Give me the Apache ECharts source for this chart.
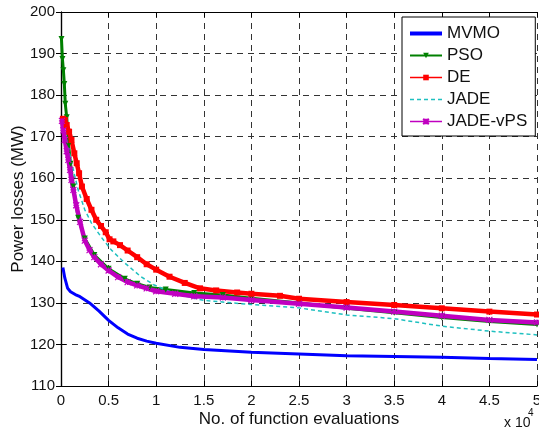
<!DOCTYPE html>
<html>
<head>
<meta charset="utf-8">
<script src="https://cdn.jsdelivr.net/npm/echarts@6/dist/echarts.min.js"></script>
<style>
html,body{margin:0;padding:0;background:#fff;}
#c{width:539px;height:432px;}
</style>
</head>
<body>
<div id="c"></div>
<script>
// ---- data (x in units of 10^4 function evaluations, y in MW) ----
var seriesNames = ['MVMO', 'PSO', 'DE', 'JADE', 'JADE-vPS'];
var xTicks = [0, 0.5, 1, 1.5, 2, 2.5, 3, 3.5, 4, 4.5, 5];
var yTicks = [110, 120, 130, 140, 150, 160, 170, 180, 190, 200];

var mvmoX = [0.02, 0.04, 0.07, 0.1, 0.15, 0.2, 0.3, 0.4, 0.5, 0.6, 0.7, 0.8, 0.9, 1.0, 1.25, 1.5, 2.0, 2.5, 3.0, 3.5, 4.0, 4.5, 5.0];
var mvmoY = [138.5, 136, 133.5, 132.7, 132, 131.5, 130, 128, 125.8, 124, 122.5, 121.5, 120.8, 120.3, 119.3, 118.8, 118.1, 117.7, 117.3, 117.1, 116.9, 116.6, 116.4];

var psoX = [0.005, 0.015, 0.025, 0.035, 0.045, 0.06, 0.08, 0.1, 0.13, 0.18, 0.25, 0.35, 0.5, 0.67, 0.8, 0.93, 1.1, 1.4, 1.7, 2.0, 2.5, 3.0, 3.5, 4.0, 4.5, 5.0];
var psoY = [193.5, 188.7, 186, 182.7, 177.9, 174.7, 168, 163.5, 158, 150.5, 145.5, 141.5, 138.2, 135.8, 134.6, 133.7, 133.2, 132.4, 131.9, 131.1, 130.0, 128.7, 127.6, 126.5, 125.5, 124.8];

var deX = [0.02, 0.04, 0.06, 0.085, 0.11, 0.14, 0.165, 0.19, 0.22, 0.27, 0.32, 0.37, 0.42, 0.47, 0.51, 0.55, 0.62, 0.7, 0.8, 0.9, 1.0, 1.14, 1.3, 1.46, 1.63, 1.85, 2.0, 2.3, 2.5, 3.0, 3.5, 4.0, 4.5, 5.0];
var deY = [174.3, 174, 172.8, 171.2, 169.2, 166, 163.6, 161.2, 158, 155, 152.4, 150, 148.5, 147, 145.3, 144.8, 143.9, 142.6, 141, 139.3, 138, 136.3, 134.8, 133.5, 133, 132.5, 132.2, 131.7, 131.0, 130.2, 129.5, 128.7, 127.9, 127.2];

var jadeX = [0.02, 0.05, 0.1, 0.14, 0.18, 0.25, 0.32, 0.42, 0.53, 0.67, 0.84, 0.98, 1.2, 1.5, 2.0, 2.5, 3.0, 3.5, 4.0, 4.5, 5.0];
var jadeY = [172.5, 170, 165, 161, 157.2, 152.4, 149.2, 145.9, 142.7, 139.6, 136.3, 134.3, 132.2, 130.6, 129.6, 128.8, 127.1, 126.2, 124.4, 123.2, 122.3];

var vpsX = [0.01, 0.025, 0.04, 0.06, 0.077, 0.095, 0.11, 0.13, 0.16, 0.2, 0.25, 0.3, 0.35, 0.42, 0.5, 0.6, 0.7, 0.8, 0.9, 1.0, 1.2, 1.4, 1.7, 2.0, 2.5, 3.0, 3.5, 4.0, 4.5, 5.0];
var vpsY = [173.8, 171.5, 169.2, 166.5, 164.4, 162, 159.6, 157.2, 153.5, 149.5, 145, 142.7, 141, 139.3, 137.8, 136.2, 135, 134.2, 133.5, 132.8, 132.2, 131.6, 131.3, 130.7, 129.8, 128.9, 127.9, 126.9, 125.9, 125.3];

function pairs(xs, ys) { return xs.map(function (x, i) { return [x, ys[i]]; }); }

var FONT = 'Liberation Sans, Arial, sans-serif';
var chart = echarts.init(document.getElementById('c'), null, {renderer: 'canvas'});

var gridLine = {show: true, lineStyle: {color: '#333', width: 1, type: [6, 5]}};
var axisLine = {show: true, lineStyle: {color: '#000', width: 1.2}};
var STAR = 'path://M0,0L10,10M10,0L0,10M5,0L5,10M0,5L10,5';

var option = {
  animation: false,
  backgroundColor: '#fff',
  grid: {left: 61, right: 2, top: 12, bottom: 46, containLabel: false, outerBoundsMode: 'none'},
  xAxis: [{
    type: 'value', min: xTicks[0], max: xTicks[xTicks.length - 1], interval: 0.5,
    position: 'bottom',
    name: 'No. of function evaluations', nameLocation: 'middle', nameGap: 25, nameMoveOverlap: false,
    nameTextStyle: {fontFamily: FONT, fontSize: 17, color: '#111'},
    axisLine: axisLine, axisTick: {show: true, inside: true, length: 5, lineStyle: {color: '#000'}},
    axisLabel: {fontFamily: FONT, fontSize: 15, color: '#111', margin: 7, showMaxLabel: true, hideOverlap: false},
    splitLine: gridLine
  }, {
    type: 'value', min: 0, max: 5, interval: 0.5, position: 'top',
    axisLine: axisLine, axisTick: {show: true, inside: true, length: 5, lineStyle: {color: '#000'}},
    axisLabel: {show: false}, splitLine: {show: false}
  }],
  yAxis: [{
    type: 'value', min: yTicks[0], max: yTicks[yTicks.length - 1], interval: 10,
    position: 'left',
    name: 'Power losses (MW)', nameLocation: 'middle', nameGap: 34, nameMoveOverlap: false,
    nameTextStyle: {fontFamily: FONT, fontSize: 17, color: '#111'},
    axisLine: axisLine, axisTick: {show: true, inside: true, length: 5, lineStyle: {color: '#000'}},
    axisLabel: {fontFamily: FONT, fontSize: 15, color: '#111', margin: 6},
    splitLine: gridLine
  }, {
    type: 'value', min: 110, max: 200, interval: 10, position: 'right',
    axisLine: axisLine, axisTick: {show: true, inside: true, length: 5, lineStyle: {color: '#000'}},
    axisLabel: {show: false}, splitLine: {show: false}
  }],
  legend: {
    orient: 'vertical', left: 402, top: 17,
    padding: [8, 8, 6, 6], itemGap: 5, itemWidth: 32, itemHeight: 7,
    backgroundColor: '#fff', borderColor: '#000', borderWidth: 1,
    textStyle: {fontFamily: FONT, fontSize: 17, color: '#111', lineHeight: 17},
    data: [
      {name: 'MVMO', lineStyle: {width: 4}, itemStyle: {opacity: 0}},
      {name: 'PSO', lineStyle: {width: 2}},
      {name: 'DE', lineStyle: {width: 1.5}},
      {name: 'JADE', lineStyle: {width: 1.5}, itemStyle: {opacity: 0}},
      {name: 'JADE-vPS', lineStyle: {width: 1.5}}
    ]
  },
  graphic: [
    {type: 'text', left: 504, top: 416, style: {text: 'x 10', font: '14px ' + FONT, fill: '#111'}},
    {type: 'text', left: 528, top: 408, style: {text: '4', font: '10px ' + FONT, fill: '#111'}}
  ],
  series: [
    {name: seriesNames[0], type: 'line', data: pairs(mvmoX, mvmoY), symbol: 'none',
     lineStyle: {color: '#0000ff', width: 3}, itemStyle: {color: '#0000ff'}},
    {name: seriesNames[1], type: 'line', data: pairs(psoX, psoY), symbol: 'triangle', symbolRotate: 180, symbolSize: 6,
     lineStyle: {color: '#008000', width: 3}, itemStyle: {color: '#008000'}},
    {name: seriesNames[2], type: 'line', data: pairs(deX, deY), symbol: 'rect', symbolSize: 6,
     lineStyle: {color: '#ff0000', width: 4.5}, itemStyle: {color: '#ff0000'}},
    {name: seriesNames[3], type: 'line', data: pairs(jadeX, jadeY), symbol: 'none',
     lineStyle: {color: '#1fc0c0', width: 1.5, type: [4, 3]}, itemStyle: {color: '#1fc0c0'}},
    {name: seriesNames[4], type: 'line', data: pairs(vpsX, vpsY),
     symbol: STAR, symbolSize: 6,
     lineStyle: {color: '#c000c0', width: 4.5},
     itemStyle: {color: '#c000c0', borderColor: '#c000c0', borderWidth: 1.2}}
  ]
};
chart.setOption(option);
</script>
</body>
</html>
